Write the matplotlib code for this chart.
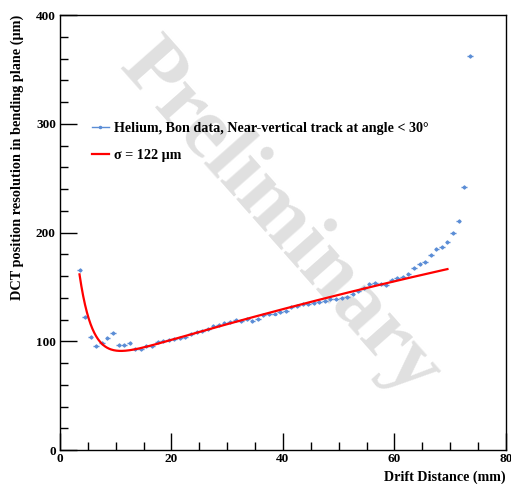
import numpy as np
import matplotlib
matplotlib.use("Agg")
import matplotlib.pyplot as plt
from matplotlib.lines import Line2D
from matplotlib.ticker import MultipleLocator

plt.rcParams["font.family"] = ["Liberation Serif", "DejaVu Serif"]
plt.rcParams["font.weight"] = "bold"

# ---- data ----
drift_mm = [3.5, 4.5, 5.5, 6.5, 7.5, 8.5, 9.5, 10.5, 11.5, 12.5,
            13.5, 14.5, 15.5, 16.5, 17.5, 18.5, 19.5, 20.5, 21.5, 22.5,
            23.5, 24.5, 25.5, 26.5, 27.5, 28.5, 29.5, 30.5, 31.5, 32.5,
            33.5, 34.5, 35.5, 36.5, 37.5, 38.5, 39.5, 40.5, 41.5, 42.5,
            43.5, 44.5, 45.5, 46.5, 47.5, 48.5, 49.5, 50.5, 51.5, 52.5,
            53.5, 54.5, 55.5, 56.5, 57.5, 58.5, 59.5, 60.5, 61.5, 62.5,
            63.5, 64.5, 65.5, 66.5, 67.5, 68.5, 69.5, 70.5, 71.5, 72.5,
            73.5]
resolution_um = [165.5, 122.0, 103.6, 95.3, 98.7, 102.7, 107.9, 96.2, 96.2, 98.7,
                 93.2, 93.0, 95.6, 96.0, 99.0, 100.0, 101.0, 101.7, 103.3, 104.2,
                 106.4, 108.8, 109.7, 111.6, 114.0, 115.0, 116.5, 117.7, 119.5, 118.9,
                 120.2, 118.6, 120.8, 124.1, 124.7, 125.5, 126.5, 128.0, 131.2, 132.4,
                 134.0, 134.6, 135.2, 136.4, 137.3, 138.5, 138.9, 140.0, 141.0, 143.2,
                 146.0, 148.6, 152.3, 153.3, 152.6, 151.7, 156.3, 157.9, 159.4, 161.5,
                 167.6, 171.0, 173.2, 179.3, 184.5, 186.4, 191.5, 199.2, 210.6, 241.5,
                 362.0]
bin_half_width = 0.5
res_err = 1.8

data_label = "Helium, Bon data, Near-vertical track at angle < 30\u00b0"
fit_label = "\u03c3 = 122 \u03bcm"

# fitted curve: A*exp(-x/t) + b + c*x + d*x^2
fit_A, fit_t = 380.0, 2.35
fit_b, fit_c, fit_d = 70.2, 1.62, -0.0034
fit_range = (3.5, 69.5)

fig = plt.figure(figsize=(5.11, 4.84), dpi=100)
ax = fig.add_axes([0.1174, 0.0702, 0.8728, 0.8988])

# watermark
ax.text(0.493, 0.53, "Preliminary", transform=ax.transAxes, rotation=-48.5,
        ha="center", va="center", fontsize=62, color="#e0e0e0",
        fontweight="bold", zorder=0)

blue = "#5b8dd6"
ax.errorbar(drift_mm, resolution_um, xerr=bin_half_width, yerr=res_err,
            fmt="o", ms=1.5, color=blue, ecolor=blue, elinewidth=1.0,
            capsize=0, zorder=3)

xf = np.linspace(fit_range[0], fit_range[1], 400)
yf = fit_A * np.exp(-xf / fit_t) + fit_b + fit_c * xf + fit_d * xf ** 2
ax.plot(xf, yf, color="red", lw=1.6, zorder=4)

ax.set_xlim(0, 80)
ax.set_ylim(0, 400)
ax.xaxis.set_major_locator(MultipleLocator(20))
ax.xaxis.set_minor_locator(MultipleLocator(5))
ax.yaxis.set_major_locator(MultipleLocator(100))
ax.yaxis.set_minor_locator(MultipleLocator(20))
ax.tick_params(which="both", direction="in", top=False, right=False,
               labelsize=9.5, width=1.0)
ax.tick_params(which="major", length=12)
ax.tick_params(which="minor", length=6)
ax.tick_params(axis="x", pad=2)
ax.tick_params(axis="y", pad=3)
for sp in ax.spines.values():
    sp.set_linewidth(1.0)

ax.set_xlabel("Drift Distance (mm)", loc="right", fontsize=10.2, fontweight="bold")
ax.set_ylabel("DCT position resolution in bending plane (\u03bcm)", loc="top",
              fontsize=10.3, fontweight="bold")
ax.xaxis.set_label_coords(1.0, -0.048)
ax.yaxis.set_label_coords(-0.08, 1.0)

handles = [Line2D([], [], color=blue, lw=1.0, marker="o", ms=1.5),
           Line2D([], [], color="red", lw=1.6)]
leg = ax.legend(handles, [data_label, fit_label], loc="upper left",
                bbox_to_anchor=(0.071, 0.755), frameon=False,
                fontsize=10.2, handlelength=1.2, handletextpad=0.35,
                labelspacing=1.0, borderpad=0, borderaxespad=0)
for t in leg.get_texts():
    t.set_fontweight("bold")

fig.savefig("out.png", dpi=100)
